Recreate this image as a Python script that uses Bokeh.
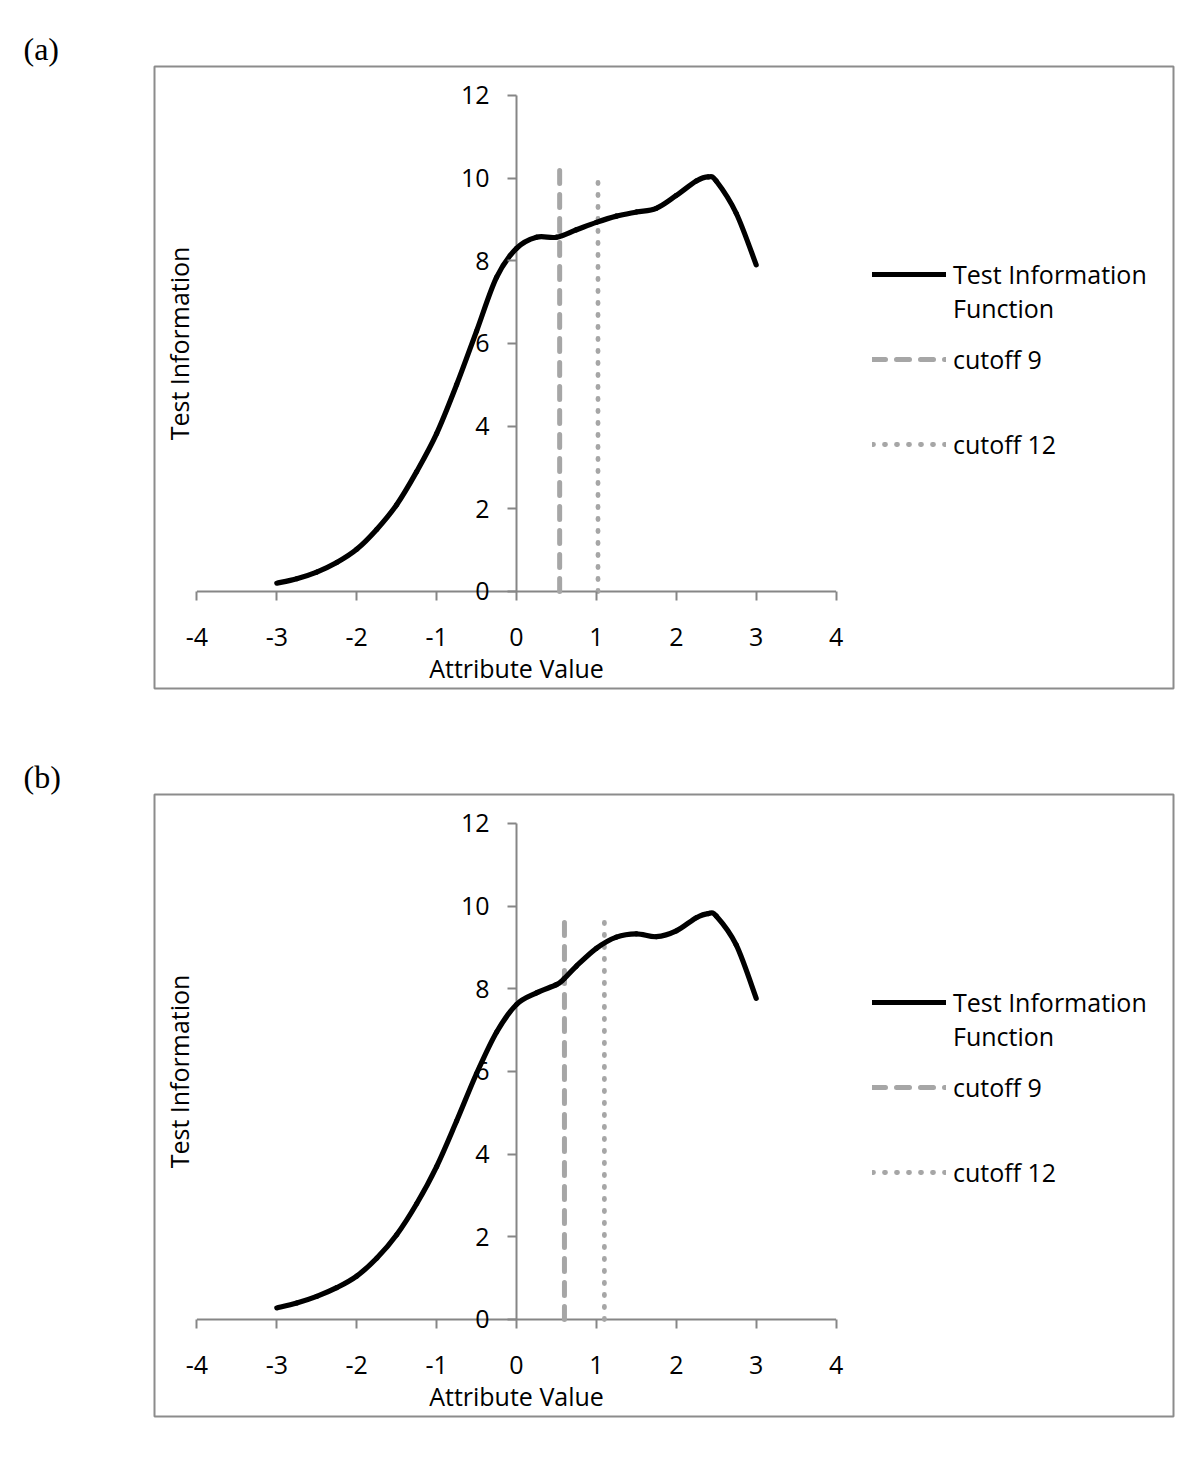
import math
from bokeh.plotting import figure
from bokeh.models import Legend, LegendItem, Label, FixedTicker, Range1d
from bokeh.layouts import column
from bokeh.embed import file_html
from bokeh.resources import INLINE

# ---------------- data ----------------
x_ticks = [-4, -3, -2, -1, 0, 1, 2, 3, 4]
y_ticks = [0, 2, 4, 6, 8, 10, 12]

theta_a = [-3, -2.75, -2.5, -2.25, -2, -1.75, -1.5, -1.25, -1, -0.75, -0.5, -0.25,
           0, 0.25, 0.5, 0.75, 1, 1.25, 1.5, 1.75, 2, 2.25, 2.4, 2.5, 2.75, 3]
info_a = [0.20, 0.31, 0.47, 0.70, 1.02, 1.50, 2.10, 2.90, 3.82, 5.00, 6.30, 7.60,
          8.30, 8.57, 8.57, 8.75, 8.93, 9.08, 9.18, 9.27, 9.58, 9.93, 10.03, 9.93, 9.15, 7.90]

theta_b = [-3, -2.75, -2.5, -2.25, -2, -1.75, -1.5, -1.25, -1, -0.75, -0.5, -0.25,
           0, 0.25, 0.5, 0.6, 0.75, 1, 1.25, 1.5, 1.75, 2, 2.25, 2.4, 2.5, 2.75, 3]
info_b = [0.28, 0.40, 0.56, 0.77, 1.05, 1.48, 2.05, 2.80, 3.70, 4.80, 5.95, 6.95,
          7.62, 7.90, 8.10, 8.25, 8.55, 8.98, 9.25, 9.33, 9.26, 9.40, 9.72, 9.82, 9.76, 9.06, 7.77]

# cutoff lines: position and top value
cut9_a = [0.54]
cut9_top_a = [10.25]
cut12_a = [1.02]
cut12_top_a = [10.05]
cut9_b = [0.60]
cut9_top_b = [9.78]
cut12_b = [1.10]
cut12_top_b = [9.77]

panel_tags = ["(a)", "(b)"]
x_title = "Attribute Value"
y_title = "Test Information"
legend_labels = ["Test Information", "Function", "cutoff 9", "cutoff 12"]

# ---------------- style ----------------
FONT = "Open Sans"
FS = "25px"
AXIS_GRAY = "#868686"
BOX_GRAY = "#8C8C8C"
CUT_GRAY = "#A6A6A6"


def smooth_segments(xs, ys):
    """Cubic Bezier pieces through every read point (Excel-style smoothed line)."""
    n = len(xs)
    out = {k: [] for k in ("x0", "y0", "x1", "y1", "cx0", "cy0", "cx1", "cy1")}
    for i in range(n - 1):
        i0 = max(i - 1, 0)
        i3 = min(i + 2, n - 1)
        out["x0"].append(xs[i]); out["y0"].append(ys[i])
        out["x1"].append(xs[i + 1]); out["y1"].append(ys[i + 1])
        out["cx0"].append(xs[i] + (xs[i + 1] - xs[i0]) / 6)
        out["cy0"].append(ys[i] + (ys[i + 1] - ys[i0]) / 6)
        out["cx1"].append(xs[i + 1] - (xs[i3] - xs[i]) / 6)
        out["cy1"].append(ys[i + 1] - (ys[i3] - ys[i]) / 6)
    return out


def make_panel(tag, xs, ys, c9, c9top, c12, c12top, height, top_border):
    p = figure(width=1192, height=height, output_backend="svg", toolbar_location=None,
               x_range=Range1d(-4.531, 8.223), y_range=Range1d(-2.347, 12.70),
               min_border_left=154, min_border_right=19, min_border_top=top_border,
               min_border_bottom=48, title=tag)
    p.grid.visible = False
    p.background_fill_color = "white"
    p.border_fill_color = "white"
    p.outline_line_color = BOX_GRAY
    p.outline_line_width = 2

    p.title.text_font = "Liberation Serif"
    p.title.text_font_size = "32px"
    p.title.text_font_style = "normal"
    p.title.text_color = "black"
    p.title.align = "left"
    p.title.offset = -131
    p.title.standoff = 0

    xa = p.xaxis[0]
    xa.fixed_location = 0
    xa.ticker = FixedTicker(ticks=x_ticks)
    xa.major_label_overrides = {t: str(t) for t in x_ticks}
    xa.axis_line_color = None
    xa.major_tick_line_color = AXIS_GRAY
    xa.major_tick_line_width = 2
    xa.major_tick_out = 9
    xa.major_tick_in = 0
    xa.minor_tick_line_color = None
    xa.major_label_text_font = FONT
    xa.major_label_text_font_size = FS
    xa.major_label_text_color = "black"
    xa.major_label_standoff = 28

    ya = p.yaxis[0]
    ya.fixed_location = 0
    ya.ticker = FixedTicker(ticks=y_ticks)
    ya.major_label_overrides = {t: str(t) for t in y_ticks}
    ya.axis_line_color = None
    ya.major_tick_line_color = AXIS_GRAY
    ya.major_tick_line_width = 2
    ya.major_tick_out = 9
    ya.major_tick_in = 0
    ya.minor_tick_line_color = None
    ya.major_label_text_font = FONT
    ya.major_label_text_font_size = FS
    ya.major_label_text_color = "black"
    ya.major_label_standoff = 18

    # axis lines spanning the tick range
    p.segment(x0=[x_ticks[0], 0], y0=[0, y_ticks[0]], x1=[x_ticks[-1], 0], y1=[0, y_ticks[-1]],
              line_color=AXIS_GRAY, line_width=2)

    r9 = p.line(x=[c9[0], c9[0]], y=[0, c9top[0]], line_color=CUT_GRAY, line_width=5,
                line_dash="13 11", line_cap="round")
    r12 = p.line(x=[c12[0], c12[0]], y=[0, c12top[0]], line_color=CUT_GRAY, line_width=4.8,
                 line_dash="1 11", line_cap="round")
    seg = smooth_segments(xs, ys)
    rc = p.bezier(line_color="black", line_width=5.2, line_cap="round", **seg)
    rblank = p.line(x=[], y=[], line_alpha=0)

    # axis titles
    p.add_layout(Label(x=-4.23, y=6, text=y_title, angle=math.pi / 2, text_align="center",
                       text_baseline="middle", text_font=FONT, text_font_size=FS,
                       text_color="black"))
    p.add_layout(Label(x=0, y=-1.84, text=x_title, text_align="center",
                       text_baseline="middle", text_font=FONT, text_font_size=FS,
                       text_color="black"))

    def mk_legend(items, loc):
        lg = Legend(items=items, location=loc, padding=0, margin=0, spacing=0,
                    border_line_color=None, background_fill_alpha=0,
                    glyph_width=74, glyph_height=34, label_height=34, label_standoff=7,
                    label_text_font=FONT, label_text_font_size=FS, label_text_color="black")
        p.add_layout(lg)

    mk_legend([LegendItem(label=legend_labels[0], renderers=[rc]),
               LegendItem(label=legend_labels[1], renderers=[rblank])], (718, 363))
    mk_legend([LegendItem(label=legend_labels[2], renderers=[r9])], (718, 312))
    mk_legend([LegendItem(label=legend_labels[3], renderers=[r12])], (718, 227))
    return p


pa = make_panel(panel_tags[0], theta_a, info_a, cut9_a, cut9_top_a, cut12_a, cut12_top_a,
                736, 66)
pb = make_panel(panel_tags[1], theta_b, info_b, cut9_b, cut9_top_b, cut12_b, cut12_top_b,
                728, 58)

layout = column(pa, pb, spacing=0)
open("out.html", "w").write(file_html(layout, INLINE))
